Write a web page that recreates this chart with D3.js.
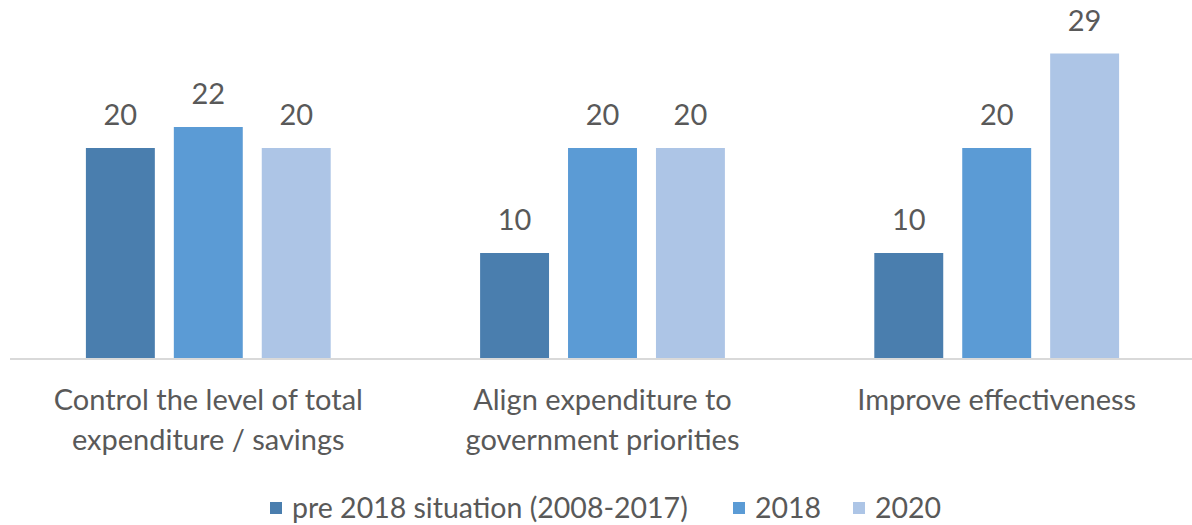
<!DOCTYPE html>
<html>
<head>
<meta charset="utf-8">
<script src="https://cdn.jsdelivr.net/npm/d3@7"></script>
<style>
  html, body { margin: 0; padding: 0; background: #ffffff; }
  svg { display: block; }
  text { font-family: Lato, "Open Sans", sans-serif; fill: #595959; }
</style>
</head>
<body>
<svg id="chart" width="1192" height="525"></svg>
<script>
// Objectives of spending reviews, count of countries per period
const categories = [
  "Control the level of total expenditure / savings",
  "Align expenditure to government priorities",
  "Improve effectiveness"
];
const categoryLines = [
  ["Control the level of total", "expenditure / savings"],
  ["Align expenditure to", "government priorities"],
  ["Improve effectiveness"]
];
const seriesNames = ["pre 2018 situation (2008-2017)", "2018", "2020"];
const pre2018 = [20, 10, 10];
const y2018 = [22, 20, 20];
const y2020 = [20, 20, 29];
const seriesValues = [pre2018, y2018, y2020];
const colors = ["#4a7eae", "#5b9bd5", "#adc5e6"];

const W = 1192, H = 525;
const baseline = 358;
const svg = d3.select("#chart");

const x0 = d3.scaleBand()
  .domain(categories)
  .range([11, 1194])
  .paddingInner(0.379)
  .paddingOuter(0.19);

const x1 = d3.scaleBand()
  .domain(seriesNames)
  .range([0, x0.bandwidth()])
  .paddingInner(0.216)
  .paddingOuter(0);

const y = d3.scaleLinear()
  .domain([0, 20])
  .range([baseline, 148]);

// bars and value labels
const groups = svg.append("g").selectAll("g")
  .data(categories)
  .join("g")
  .attr("transform", d => `translate(${x0(d)},0)`);

groups.selectAll("rect")
  .data((c, i) => seriesNames.map((s, k) => ({ s, k, v: seriesValues[k][i] })))
  .join("rect")
  .attr("x", d => x1(d.s))
  .attr("y", d => y(d.v))
  .attr("width", x1.bandwidth())
  .attr("height", d => baseline - y(d.v))
  .attr("fill", d => colors[d.k]);

groups.selectAll("text.val")
  .data((c, i) => seriesNames.map((s, k) => ({ s, k, v: seriesValues[k][i] })))
  .join("text")
  .attr("class", "val")
  .attr("x", d => x1(d.s) + x1.bandwidth() / 2)
  .attr("y", d => y(d.v) - 23)
  .attr("text-anchor", "middle")
  .style("font-size", "29px")
  .text(d => d.v);

// category axis line
svg.append("line")
  .attr("x1", 10).attr("x2", W)
  .attr("y1", baseline + 1).attr("y2", baseline + 1)
  .attr("stroke", "#d9d9d9")
  .attr("stroke-width", 2);

// category labels
categories.forEach((c, i) => {
  const t = svg.append("text")
    .attr("text-anchor", "middle")
    .style("font-size", "29px");
  categoryLines[i].forEach((line, j) => {
    t.append("tspan")
      .attr("x", x0(c) + x0.bandwidth() / 2)
      .attr("y", 410 + j * 40)
      .text(line);
  });
});

// legend
const legend = svg.append("g");
const legendItems = [
  { name: seriesNames[0], sx: 270 },
  { name: seriesNames[1], sx: 733 },
  { name: seriesNames[2], sx: 853 }
];
legendItems.forEach((it, k) => {
  legend.append("rect")
    .attr("x", it.sx).attr("y", 502)
    .attr("width", 12).attr("height", 12)
    .attr("fill", colors[k]);
  legend.append("text")
    .attr("x", it.sx + 22).attr("y", 518)
    .style("font-size", "28.5px")
    .text(it.name);
});
</script>
</body>
</html>
